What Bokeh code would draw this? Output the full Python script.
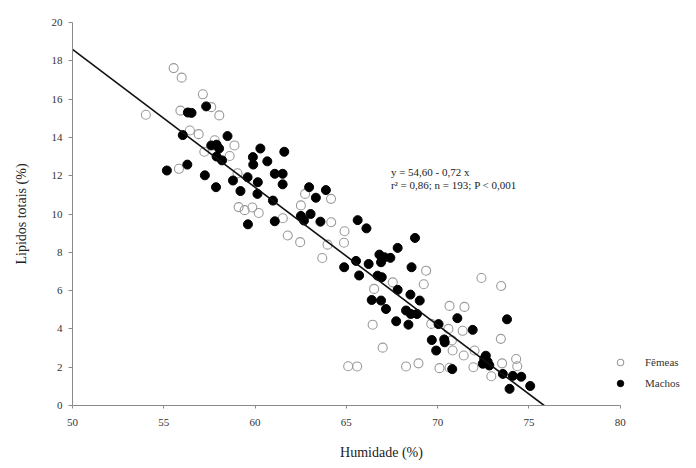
from bokeh.plotting import figure
from bokeh.models import Legend, LegendItem, Label, FixedTicker
from bokeh.embed import file_html
from bokeh.resources import INLINE

# Fêmeas (open circles)
fem_x = [55.54, 55.98, 57.14, 57.60, 58.04, 55.91, 54.02, 56.43, 56.91, 58.87,
         57.22, 58.61, 55.83, 59.04, 59.10, 59.43, 59.85, 60.20, 57.79, 61.52,
         62.51, 62.74, 64.16, 64.17, 64.90, 61.79, 62.47, 64.87, 63.97, 63.68,
         69.37, 69.24, 67.54, 66.52, 66.44, 66.99, 65.10, 65.59, 68.27, 68.95,
         70.10, 70.65, 71.47, 69.65, 71.37, 70.59, 70.78, 70.82, 71.43, 72.02,
         70.65, 71.96, 72.40, 73.48, 73.46, 74.30, 74.36, 73.53, 72.94]
fem_y = [17.62, 17.12, 16.25, 15.58, 15.15, 15.40, 15.18, 14.36, 14.17, 13.58,
         13.25, 13.03, 12.36, 12.13, 10.36, 10.20, 10.34, 10.05, 13.85, 9.78,
         10.45, 11.05, 10.79, 9.57, 9.10, 8.88, 8.53, 8.50, 8.40, 7.70,
         7.04, 6.33, 6.43, 6.09, 4.22, 3.02, 2.05, 2.04, 2.04, 2.20,
         1.95, 5.20, 5.15, 4.26, 3.90, 4.00, 3.40, 2.87, 2.61, 2.87,
         1.97, 2.00, 6.66, 6.24, 3.48, 2.43, 2.05, 2.20, 1.53]

# Machos (filled circles)
mac_x = [56.32, 56.52, 57.32, 56.04, 58.49, 57.60, 57.89, 58.03, 57.89, 58.19,
         60.29, 59.88, 59.90, 60.67, 61.60, 56.29, 55.17, 57.25, 57.86, 58.79,
         59.59, 59.20, 60.15, 60.13, 61.08, 61.51, 61.51, 60.98, 59.61, 61.08,
         62.96, 63.33, 63.88, 62.51, 63.04, 62.68, 63.58, 65.62, 66.10, 65.53,
         64.88, 65.70, 66.22, 68.76, 67.81, 66.81, 67.09, 66.90, 67.41, 66.71,
         66.94, 68.57, 67.81, 68.51, 69.02, 66.39, 66.90, 67.17, 68.27, 68.53,
         68.87, 67.73, 68.40, 70.05, 71.08, 69.68, 70.36, 70.39, 69.92, 70.80,
         73.80, 71.92, 72.55, 72.74, 72.47, 72.83, 72.64, 73.57, 74.12, 74.58,
         73.94, 75.07]
mac_y = [15.30, 15.28, 15.62, 14.12, 14.07, 13.58, 13.62, 13.42, 13.00, 12.80,
         13.42, 12.97, 12.58, 12.75, 13.25, 12.58, 12.27, 12.02, 11.40, 11.75,
         11.92, 11.20, 11.66, 11.05, 12.10, 12.10, 11.55, 10.70, 9.46, 9.62,
         11.40, 10.85, 11.25, 9.90, 10.00, 9.66, 9.60, 9.68, 9.25, 7.55,
         7.22, 6.79, 7.39, 8.75, 8.23, 7.88, 7.74, 7.48, 7.71, 6.78,
         6.70, 7.22, 6.04, 5.79, 5.48, 5.51, 5.48, 5.04, 4.96, 4.78,
         4.78, 4.40, 4.22, 4.25, 4.56, 3.42, 3.45, 3.30, 2.87, 1.90,
         4.50, 3.95, 2.44, 2.28, 2.18, 2.09, 2.60, 1.65, 1.55, 1.50,
         0.87, 1.02]

# Regression: y = 54.60 - 0.72 x
intercept = 54.60
slope = -0.72
x_ticks = [50, 55, 60, 65, 70, 75, 80]
y_ticks = [0, 2, 4, 6, 8, 10, 12, 14, 16, 18, 20]

FONT = "Liberation Serif"

p = figure(width=690, height=464, x_range=(50, 83.85), y_range=(0, 20),
           output_backend="svg", toolbar_location=None,
           min_border_left=72, min_border_right=0,
           min_border_top=22, min_border_bottom=59)

p.grid.visible = False
p.outline_line_color = None
p.background_fill_color = "white"

for ax in (p.xaxis[0], p.yaxis[0]):
    ax.axis_line_color = "#8a8a8a"
    ax.major_tick_line_color = "#8a8a8a"
    ax.minor_tick_line_color = None
    ax.major_label_text_font = FONT
    ax.major_label_text_font_size = "11px"
    ax.major_label_text_color = "#333333"
    ax.axis_label_text_font = FONT
    ax.axis_label_text_font_size = "14px"
    ax.axis_label_text_font_style = "normal"
    ax.axis_label_text_color = "#222222"

p.xaxis.bounds = (50, 80)
p.xaxis.ticker = FixedTicker(ticks=x_ticks)
p.yaxis.ticker = FixedTicker(ticks=y_ticks)
p.xaxis.major_tick_in = 0
p.xaxis.major_tick_out = 3
p.yaxis.major_tick_in = 0
p.yaxis.major_tick_out = 4
p.xaxis.major_label_standoff = 10
p.yaxis.major_label_standoff = 6
p.xaxis.axis_label = "Humidade (%)"
p.yaxis.axis_label = "Lipidos totais (%)"
p.xaxis.axis_label_standoff = 16
p.yaxis.axis_label_standoff = 20

r_f = p.scatter(fem_x, fem_y, size=9, marker="circle",
                fill_color="white", fill_alpha=0.0,
                line_color="#9a9a9a", line_width=1.1)
r_m = p.scatter(mac_x, mac_y, size=9, marker="circle",
                fill_color="black", line_color="black", line_width=1)

x_end = -intercept / slope
p.line([50, x_end], [intercept + slope * 50, 0], line_color="#111111", line_width=1.6)

p.add_layout(Label(x=67.44, y=12.17, text="y = 54,60 - 0,72 x",
                   text_font=FONT, text_font_size="11px", text_color="#222222",
                   text_baseline="middle"))
p.add_layout(Label(x=67.44, y=11.49, text="r\u00b2 = 0,86; n = 193; P < 0,001",
                   text_font=FONT, text_font_size="11px", text_color="#222222",
                   text_baseline="middle"))

legend = Legend(items=[LegendItem(label="Fêmeas", renderers=[r_f]),
                       LegendItem(label="Machos", renderers=[r_m])],
                location=(538, 14), orientation="vertical",
                glyph_width=20, glyph_height=16, label_height=16,
                spacing=5, padding=0, margin=0, label_standoff=15,
                border_line_color=None, background_fill_alpha=0.0,
                label_text_font=FONT, label_text_font_size="11px",
                label_text_color="#333333")
p.add_layout(legend)

open("out.html", "w").write(file_html(p, INLINE))
